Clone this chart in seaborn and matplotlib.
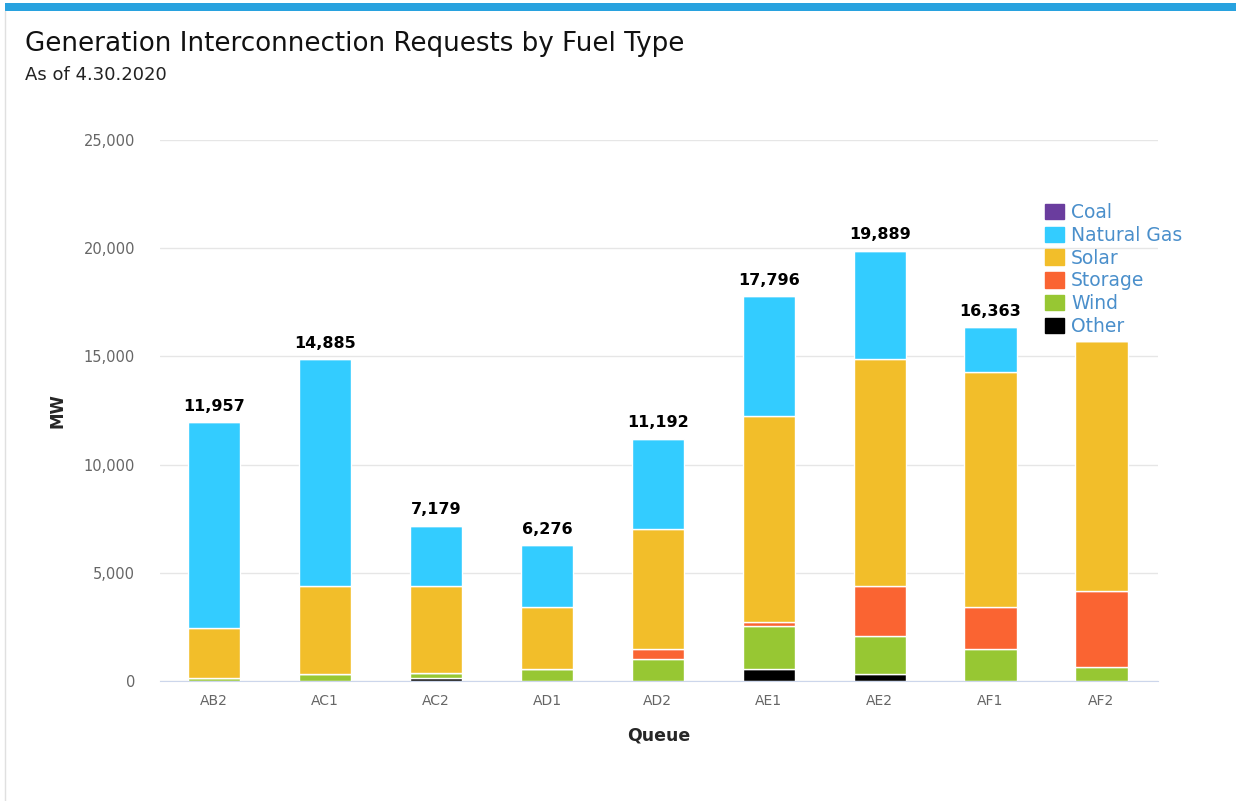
import numpy as np
import pandas as pd
import matplotlib.pyplot as plt
import seaborn as sns
from matplotlib.patches import Patch, Rectangle
from matplotlib.lines import Line2D

# Queue categories and MW by fuel type
queues = ["AB2", "AC1", "AC2", "AD1", "AD2", "AE1", "AE2", "AF1", "AF2"]
other = [0, 0, 150, 0, 0, 540, 310, 0, 0]
wind = [150, 320, 200, 570, 1000, 2000, 1770, 1490, 660]
storage = [0, 0, 0, 0, 480, 170, 2325, 1940, 3510]
solar = [2300, 4070, 4040, 2850, 5540, 9540, 10475, 10850, 11540]
natural_gas = [9507, 10495, 2789, 2856, 4172, 5546, 5009, 2083, 0]
coal = [0, 0, 0, 0, 0, 0, 0, 0, 0]
totals = [11957, 14885, 7179, 6276, 11192, 17796, 19889, 16363, None]

# bottom-up stacking order
series = [
    ("Other", other, "#000000"),
    ("Wind", wind, "#97c733"),
    ("Storage", storage, "#fa6432"),
    ("Solar", solar, "#f2be2a"),
    ("Natural Gas", natural_gas, "#33ccff"),
    ("Coal", coal, "#6a3d9e"),
]

sns.set_style("white")
plt.rcParams['font.family'] = ['DejaVu Sans']

fig = plt.figure(figsize=(12.36, 8.01), dpi=100)
ax = fig.add_axes([0.1294, 0.1498, 0.8075, 0.6754])

bottom = np.zeros(len(queues))
for name, vals, col in series:
    df = pd.DataFrame({"Queue": queues, "MW": vals})
    sns.barplot(data=df, x="Queue", y="MW", order=queues, color=col,
                bottom=bottom, width=0.47, edgecolor="white", linewidth=1,
                errorbar=None, saturation=1, ax=ax)
    bottom = bottom + np.array(vals, dtype=float)

# data labels on top of each stack (AF2's is hidden behind the legend)
for i, t in enumerate(totals):
    if t is None:
        continue
    ax.annotate(f"{t:,}", (i, bottom[i]), xytext=(0, 6), textcoords="offset points",
                ha="center", va="bottom", fontsize=11.5, fontweight="bold", color="#000000")

ax.set_xlim(-0.49, 8.51)
ax.set_ylim(0, 25000)
ax.set_yticks(range(0, 25001, 5000))
ax.set_yticklabels([f"{v:,}" for v in range(0, 25001, 5000)])
ax.yaxis.grid(True, color="#e6e6e6", linewidth=1)
ax.set_axisbelow(True)
for s in ["top", "right", "left"]:
    ax.spines[s].set_visible(False)
ax.spines["bottom"].set_color("#ccd6eb")
ax.tick_params(axis="y", length=0, pad=18, labelsize=10.5, labelcolor="#666666")
ax.tick_params(axis="x", length=0, pad=9, labelsize=10, labelcolor="#666666")
ax.set_xlabel("Queue", fontsize=12.5, fontweight="bold", labelpad=14)
ax.set_ylabel("MW", fontsize=12, fontweight="bold", labelpad=12)

# legend (top to bottom)
handles = [Patch(facecolor=col, edgecolor=col, label=name) for name, _, col in series[::-1]]
leg = fig.legend(handles=handles, loc="upper left", bbox_to_anchor=(1045 / 1236, 1 - 203 / 801),
                 frameon=False, fontsize=13.5, handlelength=1.0, handleheight=0.9,
                 handletextpad=0.4, labelspacing=0.2, borderpad=0, borderaxespad=0)
for txt in leg.get_texts():
    txt.set_color("#4a8fcb")

# titles
fig.text(25 / 1236, 1 - 44 / 801, "Generation Interconnection Requests by Fuel Type",
         fontsize=18.8, va="center", ha="left", color="#111111")
fig.text(25 / 1236, 1 - 75 / 801, "As of 4.30.2020", fontsize=13, va="center",
         ha="left", color="#222222")

# card decoration: blue top strip and faint left border
fig.patches.append(Rectangle((5 / 1236, 1 - 11 / 801), 1, 8 / 801, transform=fig.transFigure,
                             facecolor="#28a2df", edgecolor="none"))
fig.lines.append(Line2D([5 / 1236, 5 / 1236], [0, 1 - 11 / 801], transform=fig.transFigure,
                        color="#e0e0e0", linewidth=1))

fig.savefig("out.png", dpi=100)
